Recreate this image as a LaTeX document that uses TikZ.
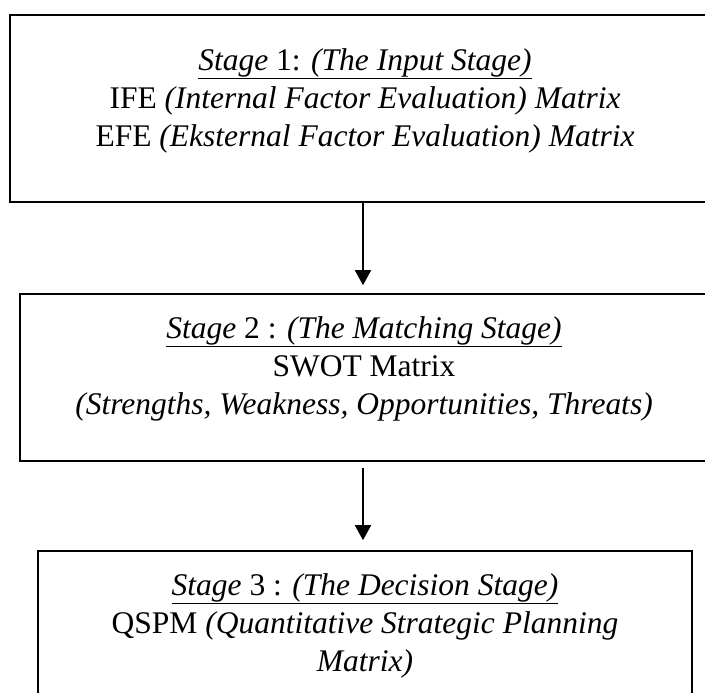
\documentclass[tikz,border=0pt]{standalone}
\usepackage{fontspec}
\setmainfont{Liberation Serif}
\usetikzlibrary{arrows.meta}

\tikzset{
  stagebox/.style={draw, line width=1.6pt, inner sep=0pt},
  stagetext/.style={align=center, inner sep=0pt, anchor=north,
    font=\fontsize{31.5}{38}\selectfont},
  flow/.style={line width=1.8pt, -{Triangle[length=15pt,width=16pt]}}
}

\begin{document}
\begin{tikzpicture}[x=1pt,y=-1pt]
\useasboundingbox (0,0) rectangle (705,693);

% the three stages
\node[stagebox, minimum width=706pt, minimum height=187pt] (stageone) at (363,108.5) {};
\node[stagebox, minimum width=686pt, minimum height=167pt] (stagetwo) at (363,377.5) {};
\node[stagebox, minimum width=654pt, minimum height=164pt] (stagethree) at (365,633) {};

\node[stagetext] (inputtxt) at (365,48) {\underline{\textit{Stage} 1: \textit{(The Input Stage)}}\\
  IFE \textit{(Internal Factor Evaluation) Matrix}\\
  EFE \textit{(Eksternal Factor Evaluation) Matrix}};
\node[stagetext] (matchtxt) at (364,316) {\underline{\textit{Stage} 2 : \textit{(The Matching Stage)}}\\
  SWOT Matrix\\
  \textit{(Strengths, Weakness, Opportunities, Threats)}};
\node[stagetext] (decisiontxt) at (365,573) {\underline{\textit{Stage} 3 : \textit{(The Decision Stage)}}\\
  QSPM \textit{(Quantitative Strategic Planning}\\
  \textit{Matrix)}};

% arrows
\draw[flow, shorten >=8pt] (stageone.south) -- (stagetwo.north);
\draw[flow, shorten <=6pt, shorten >=10pt] (stagetwo.south) -- (stagetwo.south |- stagethree.north);
\end{tikzpicture}
\end{document}
